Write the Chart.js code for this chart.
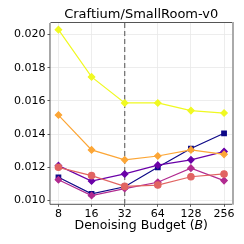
<!DOCTYPE html>
<html>
<head>
<meta charset="utf-8">
<script src="https://cdn.jsdelivr.net/npm/chart.js@4/dist/chart.umd.min.js"></script>
<style>
  html, body { margin: 0; padding: 0; background: #fff; }
  #wrap { width: 244px; height: 244px; }
</style>
</head>
<body>
<div id="wrap"><canvas id="grafico"></canvas></div>
<script>
const budgets = ['8', '16', '32', '64', '128', '256'];
const yTicks = [0.010, 0.012, 0.014, 0.016, 0.018, 0.020];

const serieAmarela = [0.0203, 0.01745, 0.01588, 0.01588, 0.01542, 0.01527];
const serieLaranja = [0.01515, 0.01305, 0.01245, 0.01268, 0.01305, 0.01278];
const serieSalmao = [0.0120, 0.0115, 0.01085, 0.01093, 0.01143, 0.0116];
const serieRoxa = [0.0121, 0.01117, 0.0116, 0.01213, 0.01245, 0.01295];
const serieAzul = [0.0114, 0.0104, 0.01083, 0.0120, 0.01313, 0.01405];
const serieMagenta = [0.01125, 0.0103, 0.01072, 0.0111, 0.01195, 0.0112];

const linhaReferencia = 2; // indice do 32
const titulo = 'Craftium/SmallRoom-v0';

function pontos(valores) {
    return valores.map((v, i) => ({ x: i, y: v }));
}

function serie(valores, cor, marcador) {
    return {
        data: pontos(valores),
        borderColor: cor,
        backgroundColor: cor,
        pointBackgroundColor: cor,
        pointBorderColor: cor,
        pointStyle: marcador,
        pointRadius: 3.2,
        borderWidth: 1.2,
        tension: 0
    };
}

const extras = {
    id: 'extras',
    beforeDatasetsDraw(chart) {
        const { ctx, chartArea, scales } = chart;
        const x = scales.x.getPixelForValue(linhaReferencia);
        ctx.save();
        ctx.strokeStyle = '#777';
        ctx.lineWidth = 1.3;
        ctx.setLineDash([5, 3]);
        ctx.beginPath();
        ctx.moveTo(x, chartArea.top);
        ctx.lineTo(x, chartArea.bottom);
        ctx.stroke();
        ctx.restore();
    },
    afterDraw(chart) {
        const { ctx, chartArea } = chart;
        const centro = (chartArea.left + chartArea.right) / 2;
        ctx.save();
        ctx.strokeStyle = '#555';
        ctx.lineWidth = 1;
        ctx.beginPath();
        ctx.moveTo(chartArea.left - 0.5, chartArea.top);
        ctx.lineTo(chartArea.left - 0.5, chartArea.bottom + 0.5);
        ctx.lineTo(chartArea.right, chartArea.bottom + 0.5);
        ctx.moveTo(chartArea.left, chartArea.top - 0.5);
        ctx.lineTo(chartArea.right, chartArea.top - 0.5);
        ctx.stroke();
        ctx.strokeStyle = '#aaa';
        ctx.lineWidth = 2;
        ctx.beginPath();
        ctx.moveTo(chartArea.right + 1, chartArea.top - 1);
        ctx.lineTo(chartArea.right + 1, chartArea.bottom + 1);
        ctx.stroke();

        ctx.fillStyle = '#000';
        ctx.textBaseline = 'middle';
        ctx.textAlign = 'center';
        ctx.font = '13px "DejaVu Sans"';
        ctx.fillText(titulo, centro, 15);

        // titulo do eixo x com o B em italico
        const parte1 = 'Denoising Budget (';
        const parte2 = 'B';
        const parte3 = ')';
        const fonteNormal = '12.5px "DejaVu Sans"';
        const fonteItalica = 'italic 12.5px "DejaVu Sans"';
        ctx.font = fonteNormal;
        const w1 = ctx.measureText(parte1).width;
        const w3 = ctx.measureText(parte3).width;
        ctx.font = fonteItalica;
        const w2 = ctx.measureText(parte2).width;
        let x = centro - (w1 + w2 + w3) / 2;
        const y = 226;
        ctx.textAlign = 'left';
        ctx.font = fonteNormal;
        ctx.fillText(parte1, x, y);
        x += w1;
        ctx.font = fonteItalica;
        ctx.fillText(parte2, x, y);
        x += w2;
        ctx.font = fonteNormal;
        ctx.fillText(parte3, x, y);
        ctx.restore();
    }
};

new Chart(document.getElementById('grafico').getContext('2d'), {
    type: 'line',
    data: {
        datasets: [
            serie(serieAmarela, '#f0f921', 'rectRot'),
            serie(serieLaranja, '#fca636', 'rectRot'),
            serie(serieSalmao, '#e16462', 'circle'),
            serie(serieRoxa, '#6a00a8', 'rectRot'),
            serie(serieMagenta, '#b12a90', 'rectRot'),
            serie(serieAzul, '#0d0887', 'rect')
        ]
    },
    options: {
        responsive: true,
        maintainAspectRatio: false,
        animation: false,
        layout: { padding: { top: 23, right: 12, bottom: 22, left: 12 } },
        plugins: {
            legend: { display: false },
            tooltip: { enabled: false },
            title: { display: false }
        },
        scales: {
            x: {
                type: 'linear',
                min: -0.24,
                max: 5.24,
                afterBuildTicks(axis) {
                    axis.ticks = budgets.map((b, i) => ({ value: i }));
                },
                ticks: {
                    callback: (v) => budgets[v],
                    color: '#000',
                    font: { family: 'DejaVu Sans', size: 11 },
                    padding: 1,
                    maxRotation: 0,
                    autoSkip: false
                },
                grid: {
                    color: '#e8e8e8',
                    lineWidth: 0.8,
                    tickColor: '#333',
                    tickLength: 3
                },
                border: { display: false }
            },
            y: {
                min: 0.0098,
                max: 0.0207,
                afterBuildTicks(axis) {
                    axis.ticks = yTicks.map(v => ({ value: v }));
                },
                ticks: {
                    callback: (v) => v.toFixed(3),
                    color: '#000',
                    font: { family: 'DejaVu Sans', size: 11 },
                    padding: 2
                },
                grid: {
                    color: '#e8e8e8',
                    lineWidth: 0.8,
                    tickColor: '#333',
                    tickLength: 3
                },
                border: { display: false }
            }
        }
    },
    plugins: [extras]
});
</script>
</body>
</html>
